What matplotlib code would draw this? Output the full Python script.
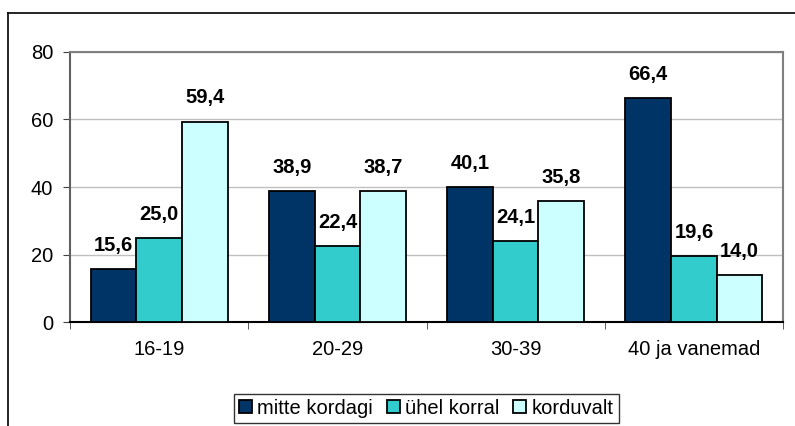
import numpy as np
import matplotlib.pyplot as plt
from matplotlib.lines import Line2D

plt.rcParams['font.family'] = ['Liberation Sans', 'DejaVu Sans']

categories = ["16-19", "20-29", "30-39", "40 ja vanemad"]
series = ["mitte kordagi", "ühel korral", "korduvalt"]
mitte_kordagi = [15.6, 38.9, 40.1, 66.4]
uhel_korral = [25.0, 22.4, 24.1, 19.6]
korduvalt = [59.4, 38.7, 35.8, 14.0]
colors = ["#003366", "#33CCCC", "#CCFFFF"]

fig = plt.figure(figsize=(7.95, 4.26), dpi=100)
ax = fig.add_axes([0.088, 0.244, 0.897, 0.634])

x = np.arange(len(categories))
w = 0.256
for i, (vals, name) in enumerate(zip([mitte_kordagi, uhel_korral, korduvalt], series)):
    bars = ax.bar(x + (i - 1) * w, vals, w, color=colors[i], edgecolor="black",
                  linewidth=1.3, label=name, zorder=3)
    for b, v in zip(bars, vals):
        ax.annotate(f"{v:.1f}".replace(".", ","), (b.get_x() + b.get_width() / 2, v),
                    xytext=(0, 13), textcoords="offset points", ha="center",
                    va="baseline", fontsize=14.5, fontweight="bold")

ax.set_xlim(-0.5, 3.5)
ax.set_ylim(0, 80)
ax.set_yticks([0, 20, 40, 60, 80])
ax.yaxis.grid(True, color="#C0C0C0", linewidth=1, zorder=0)
ax.set_xticks(x)
ax.set_xticklabels(categories)
ax.tick_params(axis="x", length=0, labelsize=14.5, pad=13)
ax.set_xticks(np.arange(-0.5, 4, 1), minor=True)
ax.tick_params(axis="x", which="minor", length=5, color="#404040", direction="out")
ax.tick_params(axis="y", length=5, color="#404040", labelsize=14.5, pad=7)
for s in ["top", "right"]:
    ax.spines[s].set_color("#808080")
    ax.spines[s].set_linewidth(1.5)
ax.spines["left"].set_color("#606060")
ax.spines["left"].set_linewidth(1.5)
ax.spines["bottom"].set_color("black")
ax.spines["bottom"].set_linewidth(1.5)

leg = fig.legend(loc="center", bbox_to_anchor=(0.536, 0.042), ncol=3, fontsize=14.5,
                 frameon=True, fancybox=False, edgecolor="black", handlelength=0.65,
                 handleheight=0.65, handletextpad=0.25, columnspacing=0.7,
                 borderpad=0.25, borderaxespad=0)
leg.get_frame().set_linewidth(1)

fig.add_artist(Line2D([0.010, 0.010], [0, 0.969], color="black", linewidth=1.2,
                      transform=fig.transFigure))
fig.add_artist(Line2D([0.010, 1.0], [0.969, 0.969], color="black", linewidth=1.2,
                      transform=fig.transFigure))

fig.savefig("out.png", dpi=100)
